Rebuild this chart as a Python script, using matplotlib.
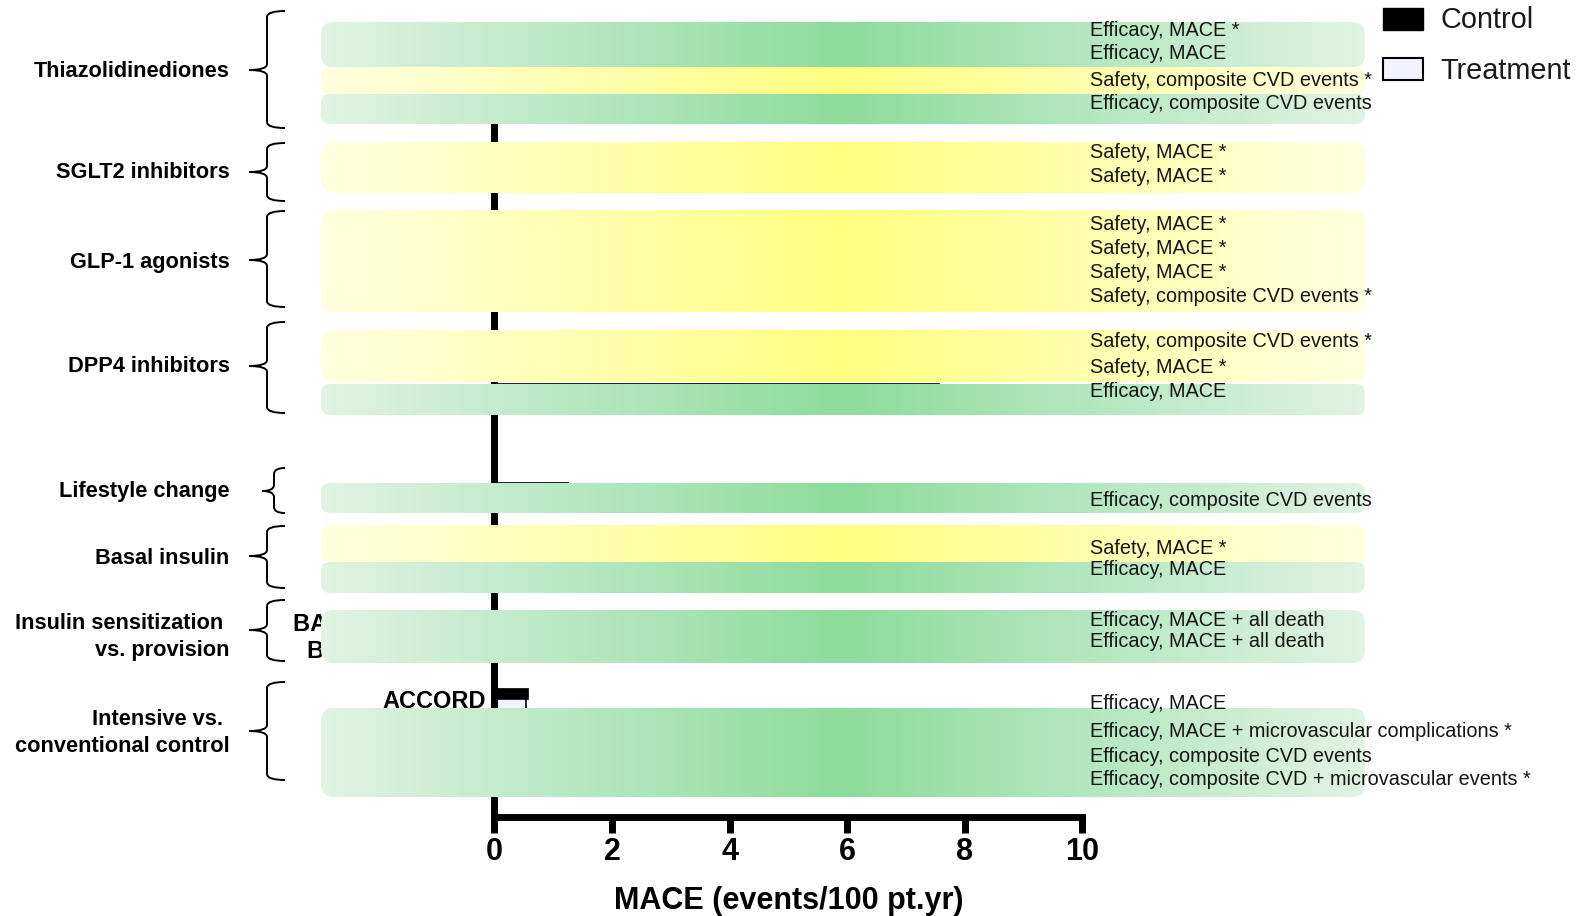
import numpy as np
import matplotlib.pyplot as plt
from matplotlib.colors import LinearSegmentedColormap
from matplotlib.patches import FancyBboxPatch, PathPatch, Rectangle
from matplotlib.path import Path

plt.rcParams['font.family'] = ['Liberation Sans', 'DejaVu Sans']

W, H = 1577, 916

# trials, top to bottom
trials = ['PROactive', 'IRIS', 'RECORD', 'TOSCA.IT',
          'EMPA-REG', 'CANVAS',
          'LEADER', 'SUSTAIN-6', 'EXSCEL', 'ELIXA',
          'SAVOR', 'TECOS', 'EXAMINE',
          'Look AHEAD',
          'DEVOTE', 'ORIGIN',
          'BARI 2D (overall)', 'BARI 2D: CABG',
          'ACCORD', 'ADVANCE', 'VADT', 'UKPDS']
control = [4.7, 2.8, 2.4, 1.5, 4.4, 3.2, 3.9, 4.4, 4.0, 6.3, 3.7, 4.2, 7.57,
           1.25, 4.5, 2.9, 2.6, 3.0, 0.57, 4.3, 3.8, 1.9]
treatment = [4.0, 2.0, 2.3, 1.5, 3.7, 2.7, 3.4, 3.2, 3.7, 6.4, 3.7, 4.3, 7.3,
             1.2, 4.1, 2.85, 2.5, 2.6, 0.54, 4.0, 3.4, 1.7]
outcomes = ['Efficacy, MACE *', 'Efficacy, MACE',
            'Safety, composite CVD events *', 'Efficacy, composite CVD events',
            'Safety, MACE *', 'Safety, MACE *',
            'Safety, MACE *', 'Safety, MACE *', 'Safety, MACE *',
            'Safety, composite CVD events *',
            'Safety, composite CVD events *', 'Safety, MACE *', 'Efficacy, MACE',
            'Efficacy, composite CVD events',
            'Safety, MACE *', 'Efficacy, MACE',
            'Efficacy, MACE + all death', 'Efficacy, MACE + all death',
            'Efficacy, MACE', 'Efficacy, MACE + microvascular complications *',
            'Efficacy, composite CVD events',
            'Efficacy, composite CVD + microvascular events *']

groups = ['Thiazolidinediones', 'SGLT2 inhibitors', 'GLP-1 agonists',
          'DPP4 inhibitors', 'Lifestyle change', 'Basal insulin',
          'Insulin sensitization\nvs. provision',
          'Intensive vs.\nconventional control']

# layout (row units of the bar axis, pixels for the annotation layer)
trial_rows = [0.45, 1.4, 2.35, 3.4, 5.5, 6.45, 8.3, 9.3, 10.3, 11.3,
              13.25, 14.2, 15.4, 19.52, 21.5, 22.9, 24.9, 26.0,
              28.1, 29.3, 30.3, 31.3]
outcome_y = [36, 59.3, 86, 109.3, 157.7, 181.7, 230, 254, 277.7, 301.7,
             347.3, 373.3, 397.3, 506, 554, 575.3, 626, 646.7,
             709.3, 737.3, 761.7, 785]
group_y = [77.3, 178.3, 268.3, 371.7, 496.7, 564.3, 629.3, 725]
braces = [(11, 128, 70), (143, 201, 172), (211, 307, 260), (322, 413, 366),
          (468, 513, 491), (526, 588, 556), (600, 661, 630), (682, 780, 731)]
# shaded bands behind the groups: top, bottom, kind
bands = [(22, 67.5, 'eff'), (67, 95, 'saf'), (94, 124, 'eff'),
         (142, 193, 'saf'), (210, 312, 'saf'),
         (330, 382, 'saf'), (384, 415, 'eff'),
         (483, 513, 'eff'),
         (525, 563, 'saf'), (562, 593, 'eff'),
         (610, 663, 'eff'), (708, 797, 'eff')]

CONTROL_COLOR = 'black'
TREAT_COLOR = '#f3f3ff'
BAR_H = 0.46

fig = plt.figure(figsize=(W / 100, H / 100), dpi=100)
ax = fig.add_axes([494.5 / W, (H - 817) / H, 587.5 / W, (817 - 24) / H])

rows = np.array(trial_rows)
ax.barh(rows - BAR_H / 2, control, height=BAR_H, color=CONTROL_COLOR,
        edgecolor=CONTROL_COLOR, linewidth=0.5)
ax.barh(rows + BAR_H / 2, treatment, height=BAR_H, color=TREAT_COLOR,
        edgecolor='black', linewidth=1.2)

ax.set_xlim(0, 10)
ax.set_ylim(33, 0)
ax.set_xticks(np.arange(0, 11, 2))
ax.set_yticks(rows)
ax.set_yticklabels(trials, fontsize=17, fontweight='bold')
ax.tick_params(axis='y', length=0, pad=6)
ax.tick_params(axis='x', length=11.5, width=5, pad=3, labelsize=22)
for lbl in ax.get_xticklabels():
    lbl.set_fontweight('bold')
for s in ['top', 'right']:
    ax.spines[s].set_visible(False)
for s in ['left', 'bottom']:
    ax.spines[s].set_linewidth(5)
ax.spines['left'].set_bounds(33, 0.3)
ax.set_xlabel('MACE (events/100 pt.yr)', fontsize=22, fontweight='bold',
              labelpad=13.5)

# annotation layer in pixel coordinates, drawn over the bars
ov = fig.add_axes([0, 0, 1, 1], zorder=3)
ov.axis('off')

cmaps = {
    'eff': LinearSegmentedColormap.from_list('eff', ['#e0f3e4', '#8ddc9c', '#e0f3e4']),
    'saf': LinearSegmentedColormap.from_list('saf', ['#ffffe0', '#ffff80', '#ffffe0']),
}
grad = np.linspace(0, 1, 256)[None, :]
X0, X1 = 321, 1365
for top, bottom, kind in bands:
    r = min(13, (bottom - top) * 0.3)
    clip = FancyBboxPatch((X0, top), X1 - X0, bottom - top,
                          boxstyle=f'round,pad=0,rounding_size={r}',
                          transform=ov.transData, fc='none', ec='none')
    im = ov.imshow(grad, cmap=cmaps[kind], extent=(X0, X1, bottom, top),
                   aspect='auto', interpolation='bilinear')
    im.set_clip_path(clip)

for txt, y in zip(outcomes, outcome_y):
    ov.text(1090, y, txt, fontsize=14.3, color='#151515', va='baseline', ha='left')

# curly braces
for i, (top, bottom, tip) in enumerate(braces):
    x_tip, x_mid, x_end = (262, 274, 285) if groups[i] == 'Lifestyle change' else (249, 267, 285)
    r = 6
    verts = [(x_end, top), (x_mid, top), (x_mid, top + r),
             (x_mid, tip - r),
             (x_mid, tip), (x_tip, tip),
             (x_mid, tip), (x_mid, tip + r),
             (x_mid, bottom - r),
             (x_mid, bottom), (x_end, bottom)]
    codes = [Path.MOVETO, Path.CURVE3, Path.CURVE3, Path.LINETO,
             Path.CURVE3, Path.CURVE3, Path.CURVE3, Path.CURVE3,
             Path.LINETO, Path.CURVE3, Path.CURVE3]
    ov.add_patch(PathPatch(Path(verts, codes), fc='none', ec='black', lw=1.4))

# group names, right aligned next to the braces
for name, y in zip(groups, group_y):
    lines = name.split('\n')
    for k, line in enumerate(lines):
        # a wrapped first line keeps its trailing space
        x = 229.5 - (6 if k < len(lines) - 1 else 0)
        ov.text(x, y + 26.7 * k, line, fontsize=15.7, fontweight='bold',
                ha='right', va='baseline')

# legend
ov.add_patch(Rectangle((1383, 8), 40, 21.5, fc=CONTROL_COLOR, ec=CONTROL_COLOR, lw=1))
ov.add_patch(Rectangle((1383, 58), 40, 22, fc=TREAT_COLOR, ec='black', lw=1.5))
ov.text(1441, 28.3, 'Control', fontsize=20.8, color='#1a1a1a', va='baseline')
ov.text(1440, 79.3, 'Treatment', fontsize=20.8, color='#1a1a1a', va='baseline')

ov.set_xlim(0, W)
ov.set_ylim(H, 0)

fig.savefig('out.png', dpi=100)
